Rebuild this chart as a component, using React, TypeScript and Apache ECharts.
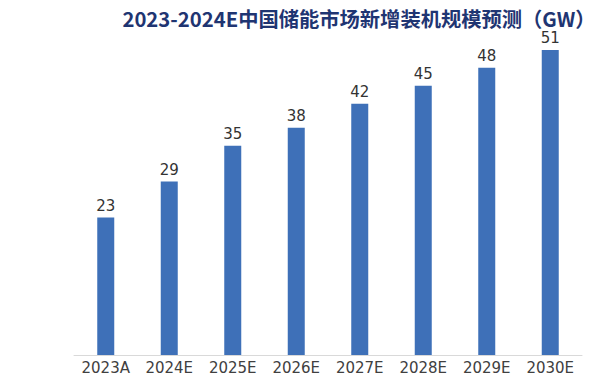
import React, { useEffect, useRef } from "react";
import * as echarts from "echarts";

const titleText = "2023-2024E中国储能市场新增装机规模预测（GW）";
const categories = ["2023A", "2024E", "2025E", "2026E", "2027E", "2028E", "2029E", "2030E"];
const values = [23, 29, 35, 38, 42, 45, 48, 51];

export default function App() {
  const ref = useRef<HTMLDivElement>(null);
  useEffect(() => {
    if (!ref.current) return;
    const chart = echarts.init(ref.current, null, { renderer: "svg" });
    chart.setOption({
      animation: false,
      backgroundColor: "#ffffff",
      title: {
        text: titleText,
        left: 354,
        textAlign: "center",
        top: 3,
        textStyle: {
          fontFamily: "Noto Sans CJK SC",
          fontSize: 20.3,
          fontWeight: "bold",
          color: "#1f3572",
        },
      },
      grid: { left: 74, right: 18, top: 26, bottom: 25 },
      xAxis: {
        type: "category",
        data: categories,
        axisLine: { show: true, lineStyle: { color: "#d9d9d9", width: 1 } },
        axisTick: { show: false },
        axisLabel: {
          interval: 0,
          color: "#404040",
          fontFamily: "DejaVu Sans",
          fontSize: 15,
          margin: 5,
        },
      },
      yAxis: {
        type: "value",
        min: 0,
        max: 55,
        show: false,
        splitLine: { show: false },
      },
      series: [
        {
          type: "bar",
          data: values,
          barWidth: 17,
          itemStyle: { color: "#3e70b8" },
          label: {
            show: true,
            position: "top",
            distance: 4,
            color: "#333333",
            fontFamily: "DejaVu Sans",
            fontSize: 15,
          },
        },
      ],
    });
    return () => chart.dispose();
  }, []);
  return (
    <div
      ref={ref}
      style={{ position: "fixed", left: 0, top: 0, width: 600, height: 380 }}
    />
  );
}
